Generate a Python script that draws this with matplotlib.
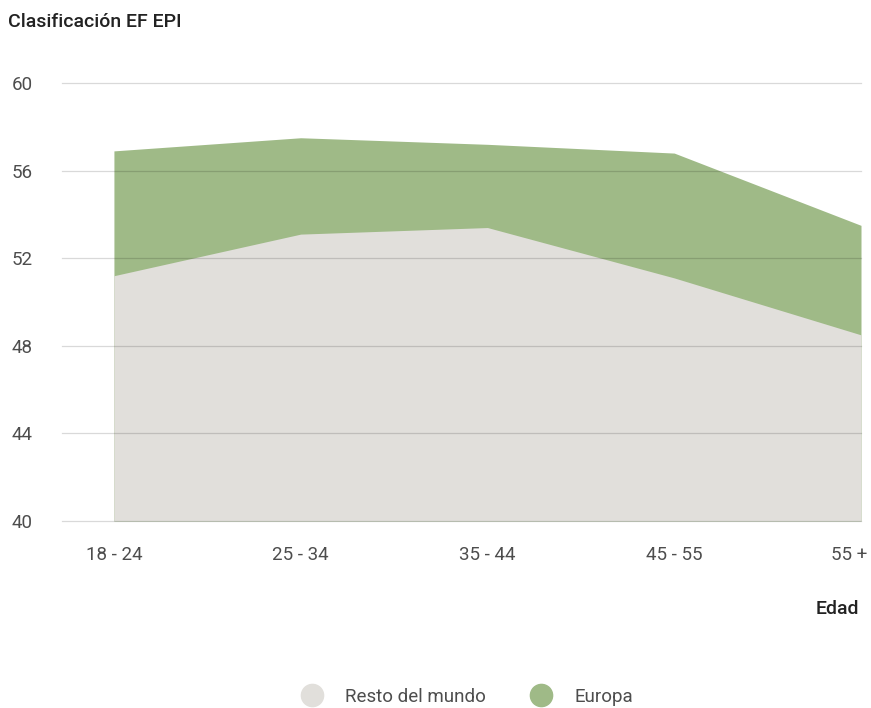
import matplotlib.pyplot as plt
import matplotlib.transforms as mtransforms
from matplotlib.lines import Line2D

# Age groups and scores for each region
edades = ['18 - 24', '25 - 34', '35 - 44', '45 - 55', '55 +']
europa = [56.9, 57.5, 57.2, 56.8, 53.5]
resto_mundo = [51.2, 53.1, 53.4, 51.1, 48.5]
y_ticks = [40, 44, 48, 52, 56, 60]

color_europa = '#9fba87'
color_resto = '#e1dfdb'
text_color = '#4d4d4d'
label_size = 13.5

plt.rcParams['font.family'] = ['Roboto', 'DejaVu Sans']

fig = plt.figure(figsize=(8.71, 7.08), dpi=100)
ax = fig.add_axes([62 / 871, 1 - 521 / 708, (861 - 62) / 871, (521 - 83) / 708])

x = list(range(len(edades)))
ax.fill_between(x, 40, europa, color=color_europa, lw=0, zorder=1)
ax.fill_between(x, 40, resto_mundo, color=color_resto, lw=0, zorder=2)

ax.set_xlim(-0.278, len(edades) - 1)
ax.set_ylim(40, 60)
ax.set_yticks(y_ticks)
ax.set_xticks(x)
ax.set_xticklabels(edades)

# thin translucent grid on top of the areas
ax.grid(axis='y', color='black', alpha=0.15, lw=0.9, zorder=3)
ax.set_axisbelow(False)
ax.grid(axis='x', visible=False)
for gl in ax.get_ygridlines():
    gl.set_clip_on(False)
for side in ax.spines.values():
    side.set_visible(False)

ax.tick_params(axis='both', length=0, labelsize=label_size, labelcolor=text_color)
ax.tick_params(axis='y', pad=21)
ax.tick_params(axis='x', pad=18)

# keep the last category label inside the figure
last = ax.get_xticklabels()[-1]
last.set_horizontalalignment('right')
last.set_transform(last.get_transform() + mtransforms.ScaledTranslation(0.06, 0, fig.dpi_scale_trans))

fig.text(8 / 871, 1 - 22 / 708, 'Clasificación EF EPI', fontsize=14, fontweight='medium',
         color='#222222', va='center', ha='left')
fig.text(859 / 871, 1 - 609 / 708, 'Edad', fontsize=14, fontweight='medium',
         color='#222222', va='center', ha='right')

handles = [
    Line2D([], [], marker='o', ls='', markersize=16, color=color_resto, label='Resto del mundo'),
    Line2D([], [], marker='o', ls='', markersize=16, color=color_europa, label='Europa'),
]
fig.legend(handles=handles, loc='center', bbox_to_anchor=(463 / 871, 1 - 697 / 708), ncol=2,
           frameon=False, fontsize=label_size, labelcolor=text_color, handletextpad=0.8,
           columnspacing=1.9)

fig.savefig('out.png', dpi=100)
